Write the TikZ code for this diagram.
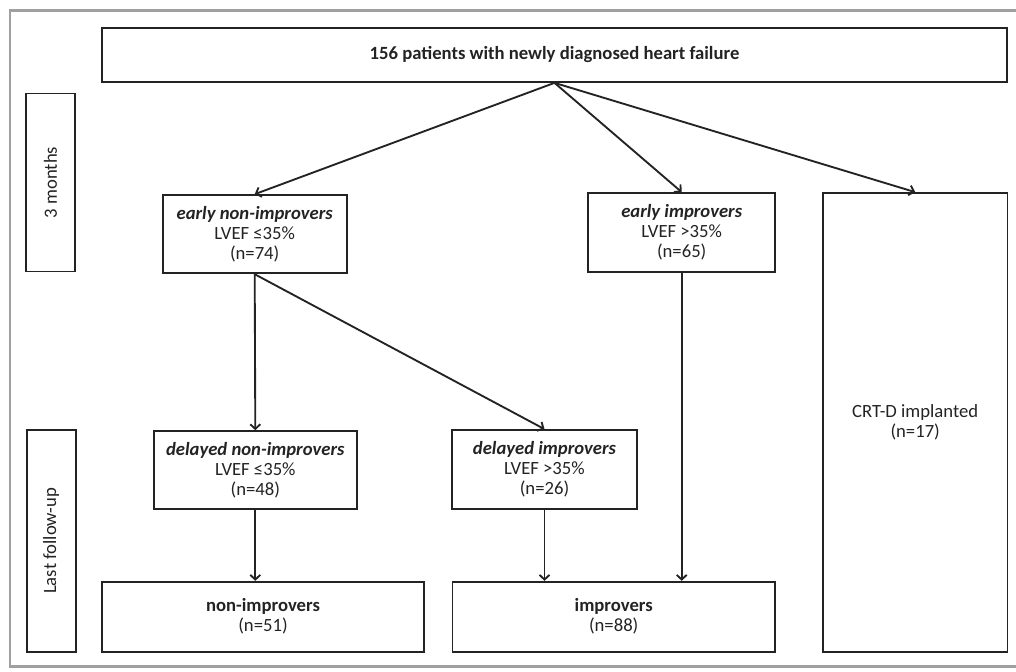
\documentclass[tikz,border=0pt]{standalone}
\usepackage{fontspec}
\setmainfont{Carlito}
\usetikzlibrary{arrows.meta}

\definecolor{framegray}{RGB}{160,160,162}
\definecolor{boxline}{RGB}{35,35,35}

\tikzset{
  box/.style={draw=boxline, line width=1.3pt, inner sep=2pt, align=center,
    font=\fontsize{14}{15}\selectfont, text=boxline},
  sidebox/.style={box, rotate=90, minimum width=#1, minimum height=36.75pt},
  flow/.style={draw=boxline, line width=1.4pt, -{Straight Barb[length=3.5pt,width=7.5pt]}}
}

\begin{document}
\begin{tikzpicture}[x=0.75pt,y=0.75pt,yscale=-1,xscale=1]
\useasboundingbox (0,0) rectangle (1016,671);

%Outer frame
\draw [color=framegray, line width=2.2pt] (1018,10.5) -- (10,10.5) -- (10,666.5) -- (1018,666.5) ;

%Rectangles: time points
\node [sidebox=133.5pt] (months) at (50.5,182.5) {3 months};
\node [sidebox=166.3pt] (lastfu) at (51.2,540.8) {Last follow-up};

%Rectangle: cohort
\node [box, minimum width=678.75pt, minimum height=40.5pt] (cohort) at (554.5,55)
  {\textbf{156 patients with newly diagnosed heart failure}};

%Rectangles: 3 months
\node [box, minimum width=138pt, minimum height=58.7pt] (earlynon) at (254.7,234.2)
  {\textbf{\textit{early non-improvers}}\\LVEF ≤35\%\\(n=74)};
\node [box, minimum width=140.25pt, minimum height=59.25pt] (earlyimp) at (681.7,232.5)
  {\textbf{\textit{early improvers}}\\LVEF >35\%\\(n=65)};
\node [box, minimum width=138.4pt, minimum height=344.25pt] (crtd) at (915.2,422.5)
  {CRT-D implanted\\(n=17)};

%Rectangles: delayed
\node [box, minimum width=152pt, minimum height=58.7pt] (delaynon) at (255.3,470.2)
  {\textbf{\textit{delayed non-improvers}}\\LVEF ≤35\%\\(n=48)};
\node [box, minimum width=138.3pt, minimum height=59.25pt] (delayimp) at (544.5,469.5)
  {\textbf{\textit{delayed improvers}}\\LVEF >35\%\\(n=26)};

%Rectangles: last follow-up
\node [box, minimum width=242pt, minimum height=52.5pt] (nonimp) at (263,616.7)
  {\textbf{non-improvers}\\(n=51)};
\node [box, minimum width=242pt, minimum height=52.5pt] (imp) at (613.7,616.7)
  {\textbf{improvers}\\(n=88)};

%Arrows
\draw [flow] (cohort.south) -- (earlynon.north) ;
\draw [flow] (cohort.south) -- (earlyimp.north) ;
\draw [flow] (cohort.south) -- (crtd.north) ;
\draw [flow] (earlynon.south) -- (delaynon.north) ;
\draw [flow] (earlynon.south) -- (delayimp.north) ;
\draw [flow] (delaynon.south) -- (nonimp.north -| delaynon.south) ;
\draw [flow] (delayimp.south) -- (imp.north -| delayimp.south) ;
\draw [flow] (earlyimp.south) -- (imp.north -| earlyimp.south) ;

\end{tikzpicture}
\end{document}
